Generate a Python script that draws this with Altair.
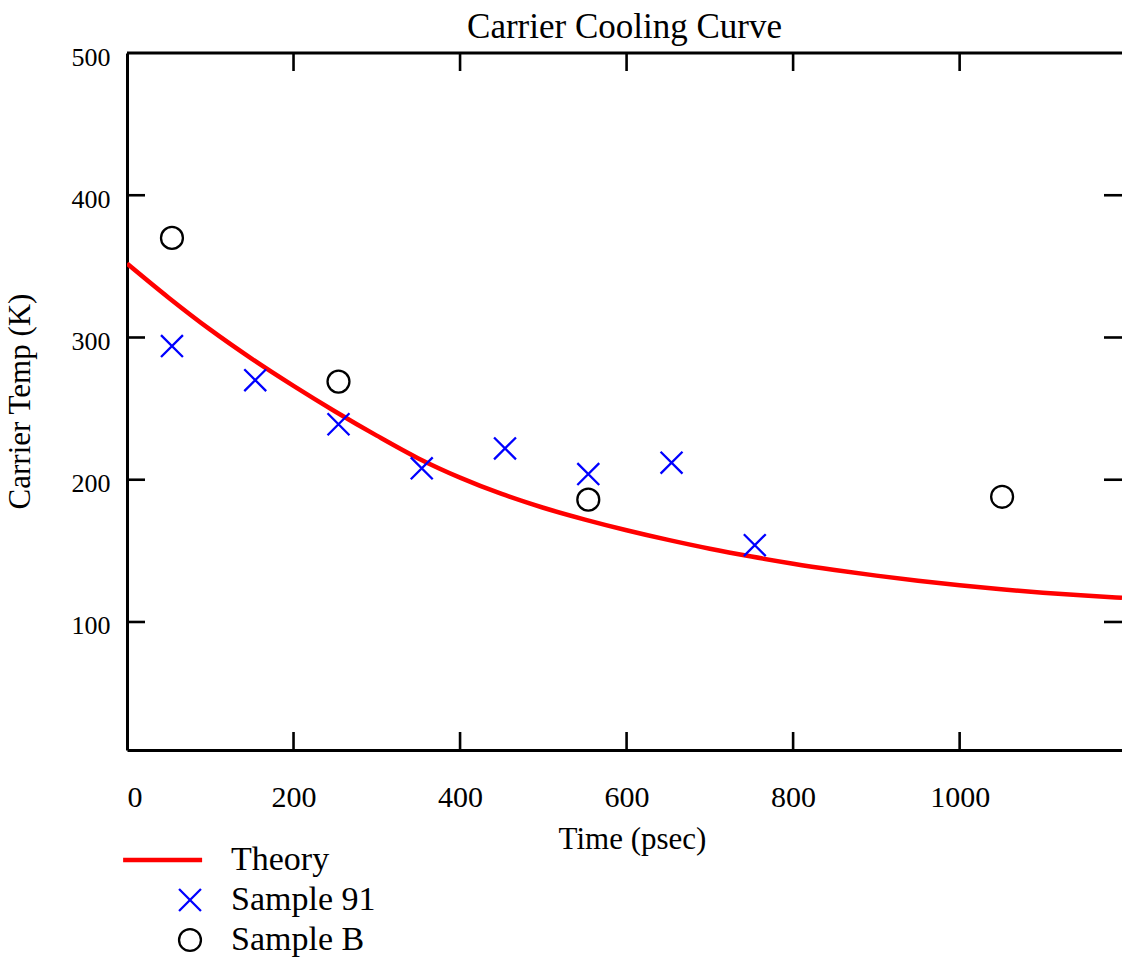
import altair as alt
import pandas as pd

# Theory curve (time in psec, carrier temperature in K)
theory_time = [0, 50, 100, 150, 200, 250, 300, 350, 400, 450, 500, 550, 600,
               650, 700, 750, 800, 850, 900, 950, 1000, 1050, 1100, 1150, 1195]
theory_temp = [352, 328, 305.5, 285, 266, 248, 231, 215, 201.5, 190, 180.3, 172,
               164.5, 157.7, 151.5, 146, 141, 136.6, 132.6, 129, 125.8, 123,
               120.6, 118.6, 117]

# Measured samples
s91_time = [54, 154, 254, 354, 454, 554, 654, 754]
s91_temp = [294, 270, 239, 208, 222, 204, 212, 154]
sb_time = [54, 254, 554, 1051]
sb_temp = [370, 269, 186, 188]

series_names = ["Theory", "Sample 91", "Sample B"]
series_colors = ["#ff0000", "#0000ff", "#000000"]

x_label_values = [0, 200, 400, 600, 800, 1000]
y_label_values = [100, 200, 300, 400, 500]
x_tick_values = [200, 400, 600, 800, 1000]
y_tick_values = [100, 200, 300, 400]

PLOT_W = 995
PLOT_H = 697
TICK_LEN = 18
FONT = "Liberation Serif"

theory_df = pd.DataFrame({"t": theory_time, "T": theory_temp})
points_df = pd.concat([
    pd.DataFrame({"t": s91_time, "T": s91_temp, "series": "Sample 91"}),
    pd.DataFrame({"t": sb_time, "T": sb_temp, "series": "Sample B"}),
])
xt_df = pd.DataFrame({"v": x_tick_values})
yt_df = pd.DataFrame({"v": y_tick_values})

xscale = alt.Scale(domain=[0, 1195], nice=False, zero=False)
yscale = alt.Scale(domain=[10, 500], nice=False, zero=False)

x_axis = alt.Axis(
    values=x_label_values, format="d", grid=False, ticks=False, tickSize=0,
    domainColor="black", domainWidth=3,
    labelFont=FONT, labelFontSize=30, labelColor="black", labelPadding=32,
    title="Time (psec)", titleFont=FONT, titleFontSize=31, titleFontWeight="normal",
    titleColor="black", titleX=505, titleY=98, titleBaseline="alphabetic",
    titleAlign="center",
)
y_axis = alt.Axis(
    values=y_label_values, format="d", grid=False, ticks=False, tickSize=0,
    domainColor="black", domainWidth=3,
    labelFont=FONT, labelFontSize=26, labelColor="black", labelPadding=17,
    labelOffset=4,
    title="Carrier Temp (K)", titleFont=FONT, titleFontSize=31,
    titleFontWeight="normal", titleColor="black", titleAngle=270,
    titleX=-98, titleY=348, titleBaseline="alphabetic", titleAlign="center",
)

# legend symbols: a long bar for the line, an x, and a circle
line_symbol = "M-6,-0.1L1,-0.1L1,0.1L-6,0.1Z"
x_symbol = "M-1,-1L1,1M-1,1L1,-1"

theory = alt.Chart(theory_df).mark_line(
    color=series_colors[0], strokeWidth=4.5, clip=True, interpolate="monotone"
).encode(
    x=alt.X("t:Q", scale=xscale, axis=x_axis),
    y=alt.Y("T:Q", scale=yscale, axis=y_axis),
)

points = alt.Chart(points_df).mark_point(
    filled=False, size=480, strokeWidth=2.3, opacity=1
).encode(
    x=alt.X("t:Q", scale=xscale),
    y=alt.Y("T:Q", scale=yscale),
    color=alt.Color(
        "series:N",
        scale=alt.Scale(domain=series_names, range=series_colors),
        title=None,
        legend=alt.Legend(
            orient="none", legendX=46, legendY=790, padding=0,
            labelFont=FONT, labelFontSize=34, labelColor="black",
            labelOffset=24, rowPadding=6, symbolSize=480,
            symbolStrokeWidth=2.3, labelLimit=400,
        ),
    ),
    shape=alt.Shape(
        "series:N",
        scale=alt.Scale(domain=series_names,
                        range=[line_symbol, x_symbol, "circle"]),
        title=None,
    ),
)

tick_style = dict(color="black", strokeWidth=2.6)

top_ticks = alt.Chart(xt_df).mark_rule(**tick_style).encode(
    x=alt.X("v:Q", scale=xscale), y=alt.value(0), y2=alt.value(TICK_LEN)
)
bottom_ticks = alt.Chart(xt_df).mark_rule(**tick_style).encode(
    x=alt.X("v:Q", scale=xscale), y=alt.value(PLOT_H - TICK_LEN), y2=alt.value(PLOT_H)
)
left_ticks = alt.Chart(yt_df).mark_rule(**tick_style).encode(
    y=alt.Y("v:Q", scale=yscale), x=alt.value(0), x2=alt.value(TICK_LEN)
)
right_ticks = alt.Chart(yt_df).mark_rule(**tick_style).encode(
    y=alt.Y("v:Q", scale=yscale), x=alt.value(PLOT_W - TICK_LEN), x2=alt.value(PLOT_W)
)
top_edge = alt.Chart(xt_df.head(1)).mark_rule(color="black", strokeWidth=3).encode(
    x=alt.value(0), x2=alt.value(PLOT_W), y=alt.value(0)
)

chart = alt.layer(
    top_edge, top_ticks, bottom_ticks, left_ticks, right_ticks, theory, points
).properties(
    width=PLOT_W,
    height=PLOT_H,
    autosize="none",
    padding={"left": 127, "top": 53, "right": 0, "bottom": 214},
    background="white",
    title=alt.TitleParams(
        "Carrier Cooling Curve", font=FONT, fontSize=35, fontWeight="normal",
        color="black", anchor="middle", offset=-1,
    ),
).configure_view(stroke="transparent")

chart.save("out.html", embed_options={"renderer": "svg", "actions": False})
